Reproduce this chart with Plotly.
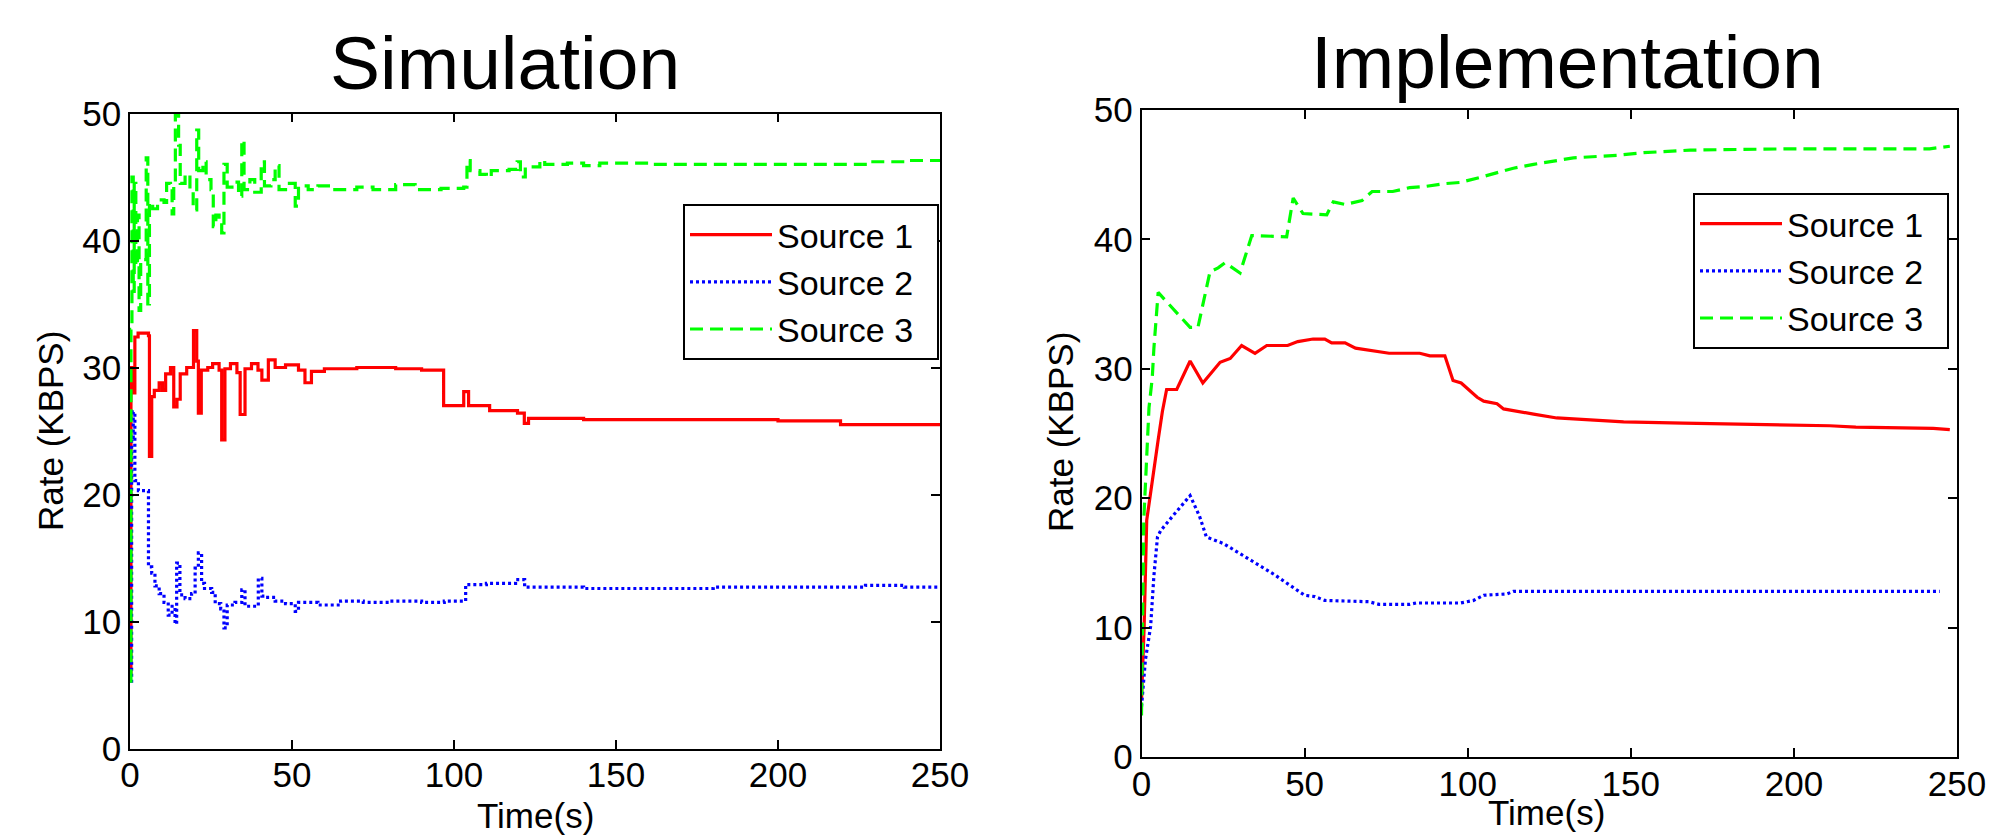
import plotly.graph_objects as go

# ---------------- Data ----------------
# Simulation panel (step-like traces)
sim_t_src1 = [0, 0.3, 0.8, 1.5, 2.5, 5.7, 6.0, 6.7, 7.5, 9.0, 10.0, 11.0, 12.5, 13.5, 14.5, 15.5,
              17.5, 19.6, 20.6, 21.1, 22.0, 24.0, 25.5, 27.5, 28.3, 29.3, 31.0, 33.0, 34.0, 35.5,
              37.5, 39.5, 40.7, 42.7, 44.8, 48.0, 52.0, 54.0, 56.0, 60.0, 70.0, 82.0, 90.0, 96.8,
              103.0, 104.5, 111.0, 119.6, 121.7, 123.0, 140.0, 180.0, 200.0, 219.3, 250.0]
sim_src1 = [6.0, 30.0, 28.0, 32.4, 32.7, 32.5, 23.0, 27.7, 28.2, 28.8, 28.2, 29.5, 30.0, 26.9, 27.5, 29.5,
            30.0, 32.9, 30.5, 26.4, 29.8, 30.0, 30.3, 29.8, 24.3, 29.9, 30.3, 29.6, 26.3, 29.9,
            30.3, 29.8, 29.0, 30.6, 30.0, 30.2, 29.8, 28.8, 29.7, 29.9, 30.0, 29.9, 29.8, 27.0,
            28.1, 27.0, 26.6, 26.4, 25.6, 26.0, 25.9, 25.9, 25.8, 25.5, 25.5]

sim_t_src2 = [0, 0.5, 1.0, 1.5, 2.6, 5.7, 6.7, 7.7, 9.0, 10.5, 11.8, 13.0, 13.9, 14.4, 15.4, 17.0,
              19.0, 20.1, 21.1, 22.1, 23.0, 25.2, 26.3, 28.0, 29.0, 30.0, 32.4, 34.5, 35.5, 37.6,
              39.6, 40.7, 42.0, 44.8, 48.0, 51.0, 52.0, 58.0, 65.0, 72.0, 80.0, 90.0, 97.0, 103.6,
              110.0, 119.0, 121.8, 140.0, 180.0, 227.0, 239.0, 250.0]
sim_src2 = [5.3, 24.5, 26.5, 21.1, 20.3, 14.3, 13.8, 12.8, 12.2, 11.5, 10.5, 11.2, 9.8, 14.6, 12.1, 11.8,
            12.2, 14.2, 15.4, 13.0, 12.6, 12.3, 11.4, 11.0, 9.5, 11.3, 11.5, 12.5, 11.2, 11.2,
            13.4, 12.0, 11.9, 11.6, 11.4, 10.8, 11.5, 11.3, 11.6, 11.5, 11.6, 11.5, 11.6, 12.9,
            13.0, 13.3, 12.7, 12.6, 12.7, 12.85, 12.7, 12.7]

sim_t_src3 = [0, 0.3, 0.6, 1.0, 1.3, 1.8, 2.3, 2.8, 3.3, 4.6, 5.0, 5.5, 6.0, 7.0, 8.5, 10.5, 11.3,
              12.5, 13.0, 13.5, 14.0, 15.0, 15.5, 17.0, 18.5, 19.5, 20.6, 21.2, 22.5, 23.5, 25.0,
              25.7, 26.5, 27.5, 28.3, 29.0, 30.0, 32.0, 33.5, 34.5, 35.2, 37.0, 38.5, 40.5, 41.5,
              43.5, 44.8, 46.0, 48.0, 51.0, 52.0, 55.0, 58.0, 62.0, 70.0, 75.0, 82.0, 88.0, 96.0,
              103.0, 104.0, 105.0, 108.0, 110.0, 111.5, 117.0, 119.5, 120.5, 122.0, 126.5, 128.0,
              135.0, 140.0, 145.0, 160.0, 200.0, 225.0, 228.0, 240.0, 250.0]
sim_src3 = [5.3, 33.0, 45.0, 36.0, 44.5, 38.0, 42.0, 34.5, 38.5, 38.5, 46.5, 35.0, 43.0, 42.5, 43.2, 43.0, 44.5,
            44.3, 42.1, 44.5, 49.9, 47.5, 44.5, 45.2, 44.0, 42.4, 48.7, 45.5, 46.2, 44.8, 44.0,
            41.1, 42.0, 41.5, 40.6, 46.0, 44.2, 44.6, 43.5, 47.9, 44.0, 44.8, 43.8, 46.2, 44.3,
            44.8, 45.9, 44.0, 44.5, 42.7, 44.3, 44.0, 44.3, 44.0, 44.2, 44.0, 44.4, 44.0, 44.1,
            44.2, 46.3, 45.5, 45.2, 45.0, 45.5, 45.6, 46.2, 45.0, 45.8, 46.3, 46.0,
            46.1, 45.9, 46.1, 46.0, 46.0, 46.0, 46.2, 46.3, 46.3]

# Implementation panel
imp_t_src1 = [0, 0.8, 1.6, 3.3, 5.1, 6.4, 7.7, 10.8, 14.9, 18.8, 24.1, 27.2, 30.7, 34.8, 38.4, 44.8,
              47.9, 52.6, 56.2, 58.3, 62.4, 65.6, 70.7, 75.9, 85.3, 88.4, 93.0, 95.5, 98.0, 102.9,
              104.9, 109.0, 111.0, 115.0, 120.2, 127.3, 135.5, 147.8, 166.0, 211.0, 219.0, 242.7, 247.8]
imp_src1 = [4.4, 10.0, 18.3, 21.5, 24.5, 26.7, 28.4, 28.4, 30.6, 28.9, 30.5, 30.8, 31.8, 31.2, 31.8, 31.8,
            32.1, 32.3, 32.3, 32.0, 32.0, 31.6, 31.4, 31.2, 31.2, 31.0, 31.0, 29.1, 28.9, 27.8,
            27.5, 27.3, 26.9, 26.7, 26.5, 26.2, 26.1, 25.9, 25.8, 25.6, 25.5, 25.4, 25.3]

imp_t_src2 = [0, 1.2, 2.8, 3.8, 4.9, 5.9, 9.5, 14.9, 17.8, 19.9, 25.1, 30.3, 35.5, 40.7, 45.9, 50.0,
              53.1, 56.2, 69.7, 72.8, 82.2, 84.2, 97.8, 101.8, 104.9, 112.0, 114.0, 244.7]
imp_src2 = [3.9, 7.5, 10.1, 14.0, 17.0, 17.5, 18.6, 20.2, 18.6, 17.0, 16.5, 15.7, 14.9, 14.1, 13.2, 12.5,
            12.4, 12.1, 12.0, 11.8, 11.8, 11.9, 11.9, 12.1, 12.5, 12.6, 12.8, 12.8]

imp_t_src3 = [0, 0.7, 2.3, 3.3, 3.8, 5.1, 14.9, 17.3, 21.0, 23.5, 25.6, 30.2, 33.8, 44.5, 46.5, 49.5,
              56.8, 58.8, 62.4, 67.6, 70.7, 77.0, 82.2, 87.3, 92.5, 97.6, 103.9, 110.0, 114.0, 120.2,
              125.3, 132.4, 145.7, 153.9, 168.2, 198.8, 241.6, 247.8]
imp_src3 = [3.2, 18.3, 27.0, 29.3, 31.6, 35.9, 33.2, 33.2, 37.5, 37.8, 38.2, 37.4, 40.3, 40.2, 43.2, 42.0,
            41.9, 42.9, 42.7, 43.0, 43.7, 43.7, 44.0, 44.1, 44.3, 44.4, 44.8, 45.2, 45.5, 45.8,
            46.0, 46.3, 46.5, 46.7, 46.9, 47.0, 47.0, 47.2]

series_names = ["Source 1", "Source 2", "Source 3"]
panel_titles = ["Simulation", "Implementation"]
x_label = "Time(s)"
y_label = "Rate (KBPS)"
x_ticks = [0, 50, 100, 150, 200, 250]
y_ticks = [0, 10, 20, 30, 40, 50]

# ---------------- Styling ----------------
W, H = 1993, 836
FONT = "Liberation Sans, Arial, Helvetica, sans-serif"
colors = ["#ff0000", "#0000ff", "#00ff00"]
dashes = ["solid", "3px,3px", "13px,7px"]
LW = 3.2
PAD = "\u00a0\u00a0"  # right padding inside the legend box

fig = go.Figure()

sim = [(sim_t_src1, sim_src1), (sim_t_src2, sim_src2), (sim_t_src3, sim_src3)]
imp = [(imp_t_src1, imp_src1), (imp_t_src2, imp_src2), (imp_t_src3, imp_src3)]

for i, (t, v) in enumerate(sim):
    fig.add_trace(go.Scatter(x=t, y=v, mode="lines", name=series_names[i] + PAD,
                             line=dict(color=colors[i], width=LW, dash=dashes[i], shape="hv"),
                             xaxis="x", yaxis="y", legend="legend"))
for i, (t, v) in enumerate(imp):
    fig.add_trace(go.Scatter(x=t, y=v, mode="lines", name=series_names[i] + PAD,
                             line=dict(color=colors[i], width=LW, dash=dashes[i]),
                             xaxis="x2", yaxis="y2", legend="legend2"))

def px_x(p):
    return p / W

def px_y(p):
    return 1 - p / H

axis_common = dict(showline=True, linecolor="black", linewidth=1.5, mirror="ticks",
                   ticks="inside", ticklen=9, tickwidth=1.5, tickcolor="black",
                   showgrid=False, zeroline=False, automargin=False,
                   tickfont=dict(family=FONT, size=35, color="black"))

legend_common = dict(xanchor="right", yanchor="top",
                     bgcolor="white", bordercolor="black", borderwidth=2,
                     font=dict(family=FONT, size=34, color="black"), itemwidth=82,
                     tracegroupgap=0)

fig.update_layout(
    width=W, height=H, template="none",
    paper_bgcolor="white", plot_bgcolor="white",
    margin=dict(l=0, r=0, t=0, b=0),
    showlegend=True,
    xaxis=dict(domain=[px_x(130), px_x(940)], range=[0, 250], tickvals=x_ticks, anchor="y",
               ticklabelstandoff=-5, **axis_common),
    yaxis=dict(domain=[px_y(748.5), px_y(113.5)], range=[0, 50], tickvals=y_ticks, anchor="x", **axis_common),
    xaxis2=dict(domain=[px_x(1141.5), px_x(1957)], range=[0, 250], tickvals=x_ticks, anchor="y2",
                ticklabelstandoff=-5, **axis_common),
    yaxis2=dict(domain=[px_y(757), px_y(110)], range=[0, 50], tickvals=y_ticks, anchor="x2", **axis_common),
    legend=dict(x=px_x(939), y=px_y(204), **legend_common),
    legend2=dict(x=px_x(1949), y=px_y(193), **legend_common),
)

annos = [
    dict(text=panel_titles[0], x=px_x(505), y=px_y(63), font=dict(size=75)),
    dict(text=panel_titles[1], x=px_x(1567), y=px_y(62), font=dict(size=75)),
    dict(text=x_label, x=px_x(535), y=px_y(815), font=dict(size=35)),
    dict(text=x_label, x=px_x(1546), y=px_y(812), font=dict(size=35)),
    dict(text=y_label, x=px_x(50), y=px_y(431), font=dict(size=35), textangle=-90),
    dict(text=y_label, x=px_x(1060), y=px_y(432), font=dict(size=35), textangle=-90),
]
for a in annos:
    a["font"].update(family=FONT, color="black")
    fig.add_annotation(xref="paper", yref="paper", showarrow=False,
                       xanchor="center", yanchor="middle", **a)

fig.write_html("out.html", config={"displayModeBar": False},
               post_script="document.body.style.margin='0';document.body.style.overflow='hidden';")
